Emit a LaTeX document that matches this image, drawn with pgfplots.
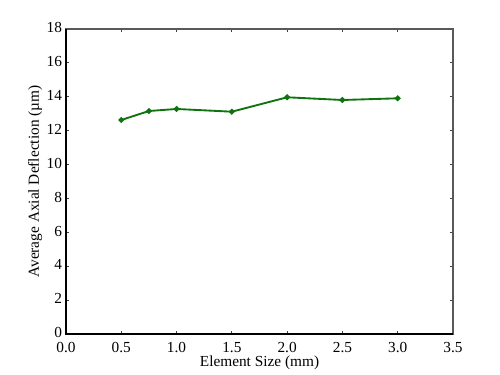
\documentclass[border=0pt]{standalone}
\usepackage{fontspec}
\setmainfont{Liberation Serif}
\usepackage{pgfplots}
\pgfplotsset{compat=1.18}
\begin{document}
\begin{tikzpicture}[x=1pt,y=1pt]
\begin{axis}[
  scale only axis,
  width=290.25pt, height=228.75pt,
  xmin=0, xmax=3.5, ymin=0, ymax=18,
  xtick={0,0.5,...,3.5},
  ytick={0,2,...,18},
  x tick label style={/pgf/number format/fixed,/pgf/number format/fixed zerofill,/pgf/number format/precision=1, yshift=-5.5pt},
  /pgf/number format/assume math mode=true,
  tick align=inside,
  major tick length=2.5pt,
  tick style={black!75, line width=0.6pt},
  axis line style={black!65, line width=0.8pt},
  ticklabel style={font=\fontsize{11.5}{13}\selectfont, inner sep=0.8pt},
  label style={font=\fontsize{11.5}{13}\selectfont},
  xlabel={Element Size (mm)},
  ylabel={Average Axial Deflection (µm)},
  xlabel style={yshift=2.5pt},
  ylabel style={yshift=-1pt},
  y tick label style={xshift=-2pt, yshift=1pt},
  clip=false,
]
\addplot[color={rgb,255:red,15;green,115;blue,15}, line width=1.4pt, mark=*, mark size=1.4pt]
 coordinates {(0.5,12.63) (0.75,13.16) (1.0,13.28) (1.5,13.12) (2.0,13.97) (2.5,13.81) (3.0,13.91)};
\draw[black, line width=0.8pt] (rel axis cs:0,1) -- (rel axis cs:0,0) -- (rel axis cs:1,0);
\coordinate (sw) at (rel axis cs:0,0);
\coordinate (ne) at (rel axis cs:1,1);
\end{axis}
\pgfresetboundingbox
\path[use as bounding box] ([shift={(-49.5pt,-30.75pt)}]sw) rectangle ([shift={(35.25pt,21.75pt)}]ne);
\end{tikzpicture}
\end{document}
